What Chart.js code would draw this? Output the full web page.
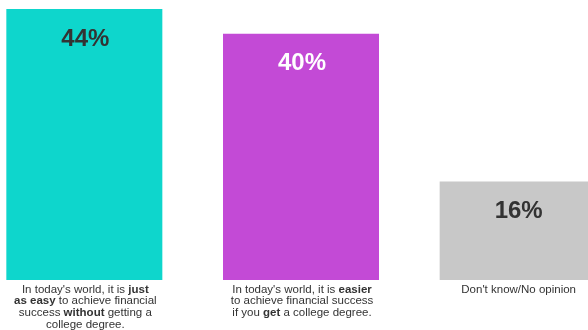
<!DOCTYPE html>
<html>
<head>
<meta charset="utf-8">
<script src="https://cdn.jsdelivr.net/npm/chart.js@4.4.1/dist/chart.umd.min.js"></script>
<style>
    html, body { margin: 0; padding: 0; background: #ffffff; overflow: hidden; }
    #wrap { position: absolute; left: -24px; top: 0; width: 650px; height: 330px; }
</style>
</head>
<body>
<div id="wrap"><canvas id="opinionChart"></canvas></div>
<script>
// categories, with **bold** parts as in the original slide
const categories = [
    ["In today's world, it is **just**", "**as easy** to achieve financial", "success **without** getting a", "college degree."],
    ["In today's world, it is **easier**", "to achieve financial success", "if you **get** a college degree."],
    ["Don't know/No opinion"]
];
const shares = [44, 40, 16];
const barColors = ['#0ED6CC', '#C34AD6', '#C8C8C8'];
const valueColors = ['#333333', '#ffffff', '#333333'];

const FONT = '"Liberation Sans", Arial, sans-serif';

// value labels inside the top of each bar
const valueLabels = {
    id: 'valueLabels',
    afterDatasetsDraw(chart) {
        const ctx = chart.ctx;
        const meta = chart.getDatasetMeta(0);
        ctx.save();
        ctx.font = 'bold 24px ' + FONT;
        ctx.textAlign = 'center';
        ctx.textBaseline = 'middle';
        meta.data.forEach(function (bar, i) {
            ctx.fillStyle = valueColors[i];
            ctx.fillText(shares[i] + '%', bar.x + 1, bar.y + 30);
        });
        ctx.restore();
    }
};

// category text under the bars, with bold runs
const categoryText = {
    id: 'categoryText',
    afterDraw(chart) {
        const ctx = chart.ctx;
        const xScale = chart.scales.x;
        const base = chart.chartArea.bottom + 12.5;
        ctx.save();
        ctx.textBaseline = 'alphabetic';
        ctx.textAlign = 'left';
        ctx.fillStyle = '#333333';
        categories.forEach(function (lines, i) {
            const cx = xScale.getPixelForValue(i) + 1;
            lines.forEach(function (line, j) {
                const parts = line.split('**');
                let total = 0;
                parts.forEach(function (p, k) {
                    ctx.font = (k % 2 ? 'bold ' : '') + '11.5px ' + FONT;
                    total += ctx.measureText(p).width;
                });
                let x = cx - total / 2;
                const y = base + j * 11.7;
                parts.forEach(function (p, k) {
                    ctx.font = (k % 2 ? 'bold ' : '') + '11.5px ' + FONT;
                    ctx.fillText(p, x, y);
                    x += ctx.measureText(p).width;
                });
            });
        });
        ctx.restore();
    }
};

const chartCtx = document.getElementById('opinionChart').getContext('2d');
new Chart(chartCtx, {
    type: 'bar',
    data: {
        labels: categories,
        datasets: [{
            data: shares,
            backgroundColor: barColors,
            borderWidth: 0,
            categoryPercentage: 1,
            barPercentage: 0.72
        }]
    },
    options: {
        responsive: true,
        maintainAspectRatio: false,
        animation: false,
        layout: { padding: { top: 0, bottom: 50, left: 0, right: 0 } },
        plugins: {
            legend: { display: false },
            tooltip: { enabled: false }
        },
        scales: {
            x: { display: false },
            y: { display: false, min: 0, max: 45.46 }
        }
    },
    plugins: [valueLabels, categoryText]
});
</script>
</body>
</html>
